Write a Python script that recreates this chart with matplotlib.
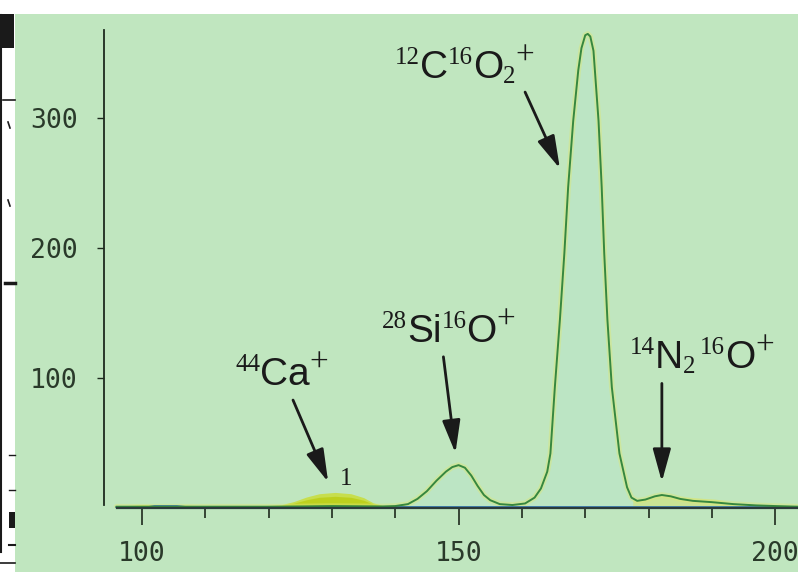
# Mass spectrum scan: CO2+, SiO+, Ca+, N2O+ peaks
import numpy as np
import matplotlib.pyplot as plt
from matplotlib.patches import Rectangle
from matplotlib.lines import Line2D
from matplotlib.transforms import offset_copy

# data
# main (green) trace
mass = [96, 100, 105, 110, 115, 120, 125, 130, 135, 138, 140, 142, 143.5, 145,
        146.5, 148, 149, 150, 151, 152, 153, 154, 155, 156.5, 158.5, 160.5, 162,
        163, 164, 164.5, 165.2, 166, 166.7, 167.3, 168.1, 168.9, 169.4, 170.0,
        170.4, 170.8, 171.3, 172.1, 172.6, 173, 173.5, 174.2, 175.4, 176.6,
        177.3, 178.2, 179.5, 181, 182.1, 183.5, 185, 187, 190, 193.4, 197, 200,
        203.6]
counts = [1, 1, 1, 1, 1, 1, 1.2, 1.5, 1.3, 1.2, 1.5, 3, 7, 13,
          21, 28, 31.5, 33, 31, 25, 17, 10, 6, 3, 2.3, 3.5, 8,
          15, 28, 42, 93, 145, 196, 247, 298, 337, 354, 364,
          365, 363, 352, 298, 247, 196, 145, 93, 42, 16,
          8, 5.5, 6.5, 9, 10, 9, 7, 5.5, 4.5, 3, 2, 1.5,
          1]

# yellow trace, low-mass part (Ca bump) and high-mass tail
yel_mass_a = [96, 100, 104, 108, 112, 118, 122, 124, 126, 128, 130.5, 133, 135,
              136.5, 138, 140, 141.5]
yel_counts_a = [1.5, 2.5, 2.5, 2, 1.5, 1.5, 2.5, 5, 8.5, 11, 12, 11, 8,
                4, 2, 2, 2.5]
yel_mass_b = [177.5, 178.2, 180, 182, 185, 188, 191, 193, 196, 200, 203.6]
yel_counts_b = [7, 6, 7.5, 9.5, 8.5, 7.5, 6.5, 4, 2, 1.5, 1]

# blue trace along the baseline
blue_mass = [96, 101, 102, 105.5, 107, 203.6]
blue_counts = [0.4, 0.5, 1.2, 1.2, 0.5, 0.4]

yticks = [100, 200, 300]
xticks = [100, 150, 200]
xminor = [110, 120, 130, 140, 160, 170, 180, 190]

bg = '#c0e6bf'
ink = '#1a1a1a'

fig = plt.figure(figsize=(7.98, 5.72), dpi=100, facecolor=bg)
W, H = 798, 572

def fx(px):
    return px / W

def fy(py):
    return 1 - py / H

# white margins of the scanned page
fig.patches.append(Rectangle((0, 0), fx(15), 1, transform=fig.transFigure,
                             facecolor='white', edgecolor='none', zorder=0))
fig.patches.append(Rectangle((0, fy(14)), 1, 1 - fy(14), transform=fig.transFigure,
                             facecolor='white', edgecolor='none', zorder=0))
# bits of the neighbouring page in the left strip
marks = [((1, 1), (15, 552), 1.5), ((0, 15), (563, 563), 1.2),
         ((3, 15), (100, 100), 1.2), ((5, 15), (283, 283), 2.5),
         ((8, 10), (122, 128), 1.2), ((8, 10), (200, 206), 1.2),
         ((9, 15), (455, 455), 1.0), ((9, 15), (490, 490), 1.0),
         ((9, 15), (545, 545), 1.5)]
for (x0, x1), (y0, y1), lw in marks:
    fig.add_artist(Line2D([fx(x0), fx(x1)], [fy(y0), fy(y1)], color=ink, lw=lw,
                          transform=fig.transFigure))
fig.patches.append(Rectangle((fx(1), fy(48)), fx(13), fy(14) - fy(48),
                             transform=fig.transFigure, facecolor=ink,
                             edgecolor='none'))
fig.patches.append(Rectangle((fx(9), fy(528)), fx(6), fy(512) - fy(528),
                             transform=fig.transFigure, facecolor=ink,
                             edgecolor='none'))

ax = fig.add_axes([fx(104), fy(508), fx(798) - fx(104), fy(30) - fy(508)])
ax.set_facecolor('none')
ax.set_xlim(94.0, 203.6)
ax.set_ylim(0, 368)

# traces
ax.fill_between(mass, 0, counts, color='#b0e2dc', alpha=0.2, lw=0)
ax.fill_between(yel_mass_a, 0, yel_counts_a, color='#cbda10', alpha=0.65, lw=0)
ax.fill_between(yel_mass_a, 0, [0.75 * v for v in yel_counts_a],
                color='#b6c800', alpha=0.6, lw=0)
ax.fill_between(yel_mass_b, 0, yel_counts_b, color='#d9e25a', alpha=0.45, lw=0)
ax.plot(mass, counts, color='#dbe876', lw=4.0, alpha=0.45, solid_capstyle='round')
ax.plot(blue_mass, blue_counts, color='#2b6fae', lw=1.8)
ax.plot(mass, counts, color='#36873f', lw=1.4)

# axes styling
for side in ['top', 'right']:
    ax.spines[side].set_visible(False)
ax.spines['left'].set_bounds(2.3, 368)
ax.spines['bottom'].set_bounds(96, 203.6)
ax.spines['left'].set_color('#1e2a1e')
ax.spines['bottom'].set_color('#2a3a3a')
ax.spines['left'].set_linewidth(1.3)
ax.spines['bottom'].set_linewidth(1.6)

tick_font = dict(family='DejaVu Sans Mono', size=19, color='#2a3a2a')
ax.set_yticks(yticks)
ax.set_yticklabels([str(v) for v in yticks], fontdict=tick_font)
ax.set_xticks(xticks)
ax.set_xticklabels([str(v) for v in xticks], fontdict=tick_font)
ax.set_xticks(xminor, minor=True)
ax.tick_params(axis='y', direction='out', length=5, width=1.0, pad=14,
               color='#1e2a1e')
ax.tick_params(axis='x', which='major', direction='out', length=12, width=1.2,
               pad=12, color='#1e2a1e')
ax.tick_params(axis='x', which='minor', direction='out', length=7, width=1.2,
               color='#1e2a1e')

renderer = fig.canvas.get_renderer()
serif = 'Liberation Serif'
sans = 'Liberation Sans'

def rich_label(x, y, parts):
    # parts: (text, family, size, raise in pixels); baseline starts at data (x, y)
    dx = 0.0
    for s, fam, size, dy in parts:
        tr = offset_copy(ax.transData, fig=fig, x=dx, y=dy, units='dots')
        t = ax.text(x, y, s, transform=tr, family=fam, fontsize=size,
                    color=ink, ha='left', va='baseline', clip_on=False)
        dx += t.get_window_extent(renderer).width

plus = ('+', serif, 24, 13)
rich_label(114.7, 94.7, [('44', serif, 18, 14), ('Ca', sans, 28, 0), plus])
rich_label(137.9, 127.8, [('28', serif, 18, 14), ('Si', sans, 28, 0),
                          ('16', serif, 18, 14), ('O', sans, 28, 0), plus])
rich_label(139.96, 331.1, [('12', serif, 18, 14), ('C', sans, 28, 0),
                           ('16', serif, 18, 14), ('O', sans, 28, 0),
                           ('2', serif, 18, -5), plus])
rich_label(177.07, 107.8, [('14', serif, 18, 14), ('N', sans, 28, 0),
                           ('2', serif, 18, -5), (' ', serif, 12, 0),
                           ('16', serif, 18, 14), ('O', sans, 28, 0), plus])
ax.text(132.2, 17.7, '1', family=serif, fontsize=18, color=ink,
        ha='center', va='baseline')

# arrows: (tail, head)
arrows = [((123.85, 83.1), (129.4, 20.0)),
          ((147.6, 116.4), (149.5, 42.3)),
          ((160.5, 320.2), (166.0, 261.3)),
          ((182.1, 95.9), (182.1, 20.2))]
for tail, head in arrows:
    ax.annotate('', xy=head, xytext=tail,
                arrowprops=dict(arrowstyle='-|>,head_length=2.0,head_width=0.55',
                                mutation_scale=10, color=ink, lw=2.0,
                                shrinkA=0, shrinkB=0))

plt.savefig('out.png', dpi=100, facecolor=fig.get_facecolor())
